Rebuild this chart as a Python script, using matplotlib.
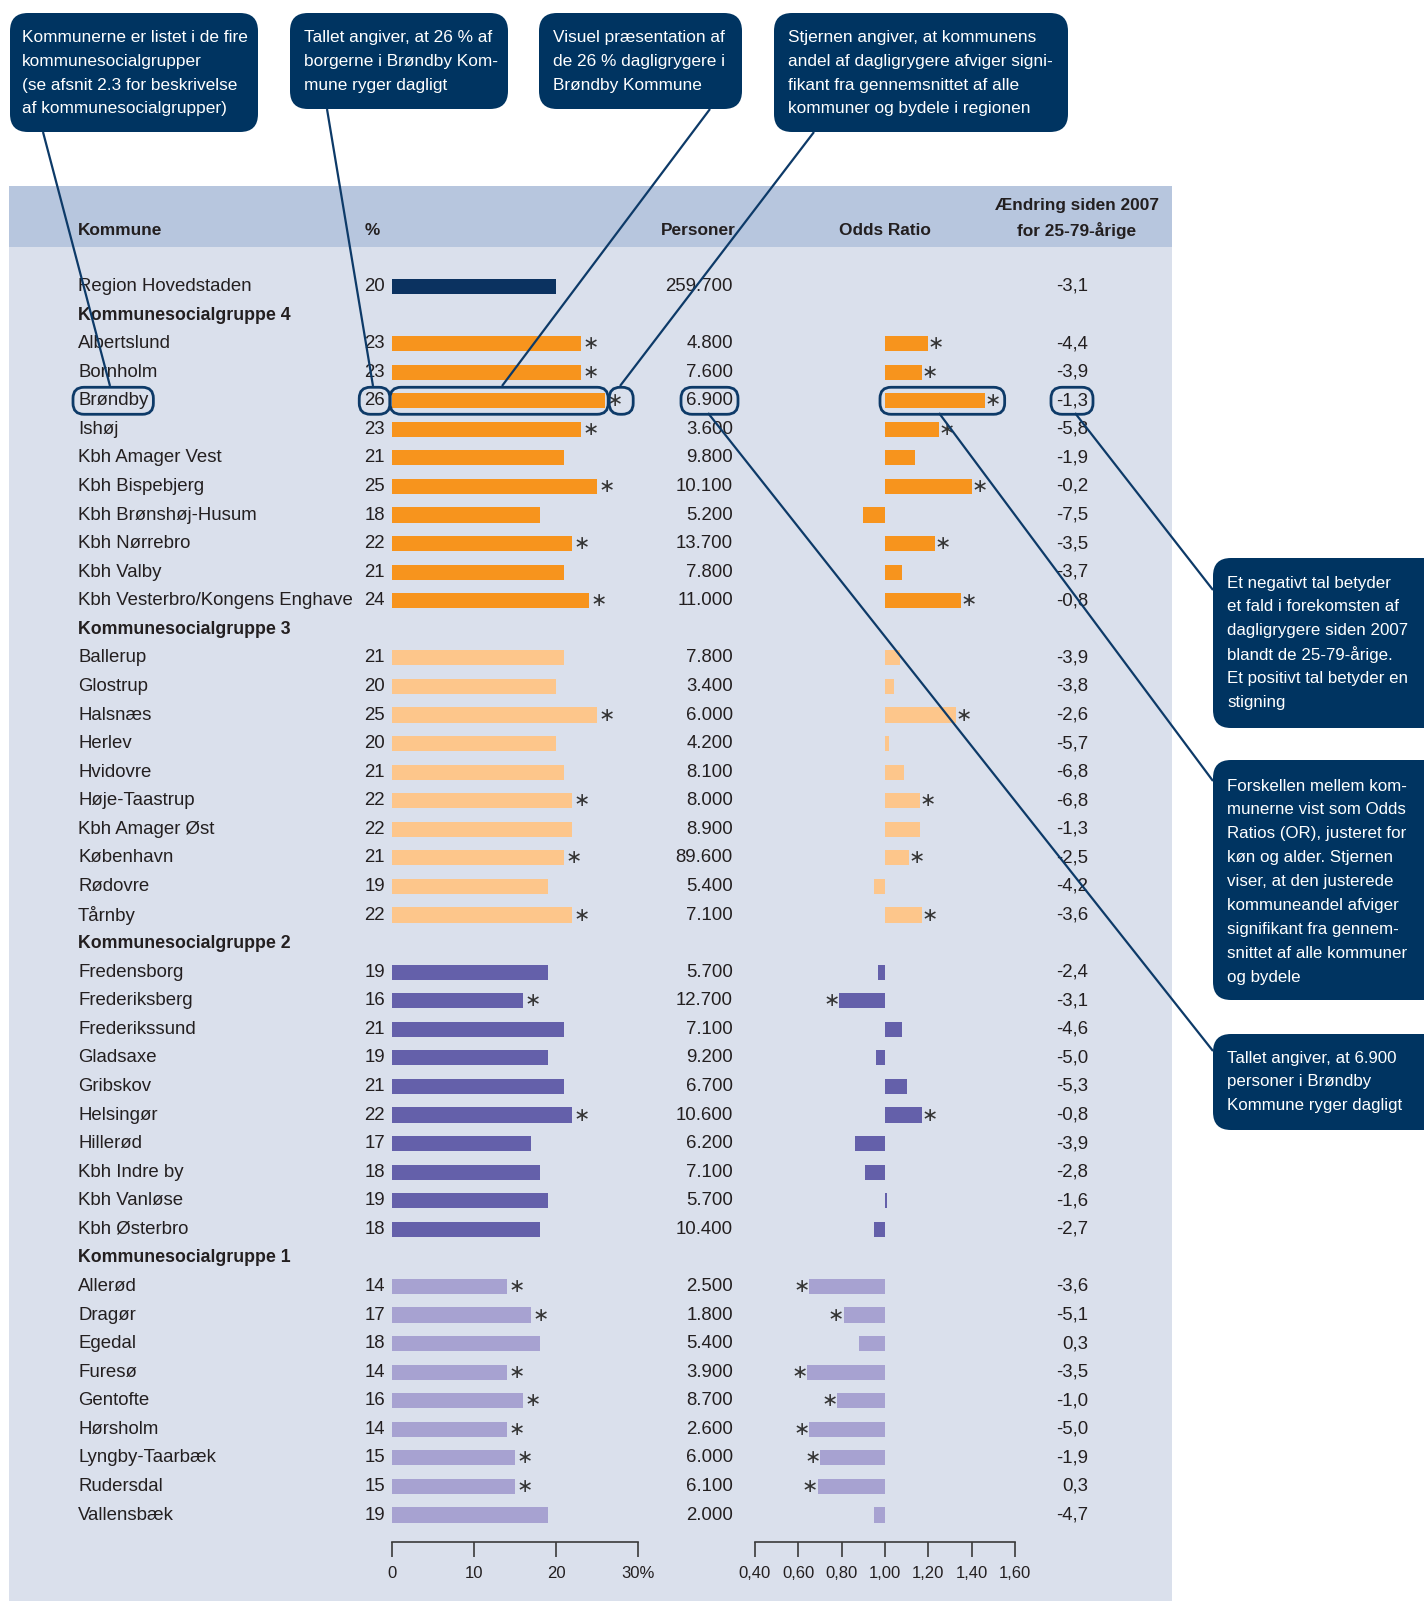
import matplotlib
matplotlib.use("Agg")
import matplotlib.pyplot as plt
from matplotlib.patches import FancyBboxPatch, Rectangle
from matplotlib.transforms import blended_transform_factory

W, H = 1424, 1601          # output size in pixels (dpi 100)
DPI = 100

# Colours
NAVY = "#0b3260"
BOX_NAVY = "#003461"
LINE_NAVY = "#0d3a68"
PANEL_BG = "#dae0ec"
HEADER_BG = "#b7c6de"
TEXT_COL = "#231f20"
G4_COL = "#f7941d"
G3_COL = "#fdc68b"
G2_COL = "#6460aa"
G1_COL = "#a7a2d1"

FONT = ["Liberation Sans", "DejaVu Sans"]
NARROW = ["Liberation Sans Narrow", "Liberation Sans", "DejaVu Sans"]

# ********************************** Data **************************************

region_name = "Region Hovedstaden"
region_pct = 20
region_persons = 259700
region_change = -3.1

group_titles = ["Kommunesocialgruppe 4", "Kommunesocialgruppe 3",
                "Kommunesocialgruppe 2", "Kommunesocialgruppe 1"]

names_g4 = ["Albertslund", "Bornholm", "Brøndby", "Ishøj", "Kbh Amager Vest",
            "Kbh Bispebjerg", "Kbh Brønshøj-Husum", "Kbh Nørrebro", "Kbh Valby",
            "Kbh Vesterbro/Kongens Enghave"]
pct_g4 = [23, 23, 26, 23, 21, 25, 18, 22, 21, 24]
persons_g4 = [4800, 7600, 6900, 3600, 9800, 10100, 5200, 13700, 7800, 11000]
odds_g4 = [1.20, 1.17, 1.46, 1.25, 1.14, 1.40, 0.90, 1.23, 1.08, 1.35]
change_g4 = [-4.4, -3.9, -1.3, -5.8, -1.9, -0.2, -7.5, -3.5, -3.7, -0.8]
sig_g4 = [True, True, True, True, False, True, False, True, False, True]

names_g3 = ["Ballerup", "Glostrup", "Halsnæs", "Herlev", "Hvidovre", "Høje-Taastrup",
            "Kbh Amager Øst", "København", "Rødovre", "Tårnby"]
pct_g3 = [21, 20, 25, 20, 21, 22, 22, 21, 19, 22]
persons_g3 = [7800, 3400, 6000, 4200, 8100, 8000, 8900, 89600, 5400, 7100]
odds_g3 = [1.07, 1.04, 1.33, 1.02, 1.09, 1.16, 1.16, 1.11, 0.95, 1.17]
change_g3 = [-3.9, -3.8, -2.6, -5.7, -6.8, -6.8, -1.3, -2.5, -4.2, -3.6]
sig_g3 = [False, False, True, False, False, True, False, True, False, True]

names_g2 = ["Fredensborg", "Frederiksberg", "Frederikssund", "Gladsaxe", "Gribskov",
            "Helsingør", "Hillerød", "Kbh Indre by", "Kbh Vanløse", "Kbh Østerbro"]
pct_g2 = [19, 16, 21, 19, 21, 22, 17, 18, 19, 18]
persons_g2 = [5700, 12700, 7100, 9200, 6700, 10600, 6200, 7100, 5700, 10400]
odds_g2 = [0.97, 0.79, 1.08, 0.96, 1.10, 1.17, 0.86, 0.91, 1.01, 0.95]
change_g2 = [-2.4, -3.1, -4.6, -5.0, -5.3, -0.8, -3.9, -2.8, -1.6, -2.7]
sig_g2 = [False, True, False, False, False, True, False, False, False, False]

names_g1 = ["Allerød", "Dragør", "Egedal", "Furesø", "Gentofte", "Hørsholm",
            "Lyngby-Taarbæk", "Rudersdal", "Vallensbæk"]
pct_g1 = [14, 17, 18, 14, 16, 14, 15, 15, 19]
persons_g1 = [2500, 1800, 5400, 3900, 8700, 2600, 6000, 6100, 2000]
odds_g1 = [0.65, 0.81, 0.88, 0.64, 0.78, 0.65, 0.70, 0.69, 0.95]
change_g1 = [-3.6, -5.1, 0.3, -3.5, -1.0, -5.0, -1.9, 0.3, -4.7]
sig_g1 = [True, True, False, True, True, True, True, True, False]

pct_ticks = [0, 10, 20, 30]
pct_tick_labels = ["0", "10", "20", "30%"]
odds_ticks = [0.4, 0.6, 0.8, 1.0, 1.2, 1.4, 1.6]
odds_tick_labels = ["0,40", "0,60", "0,80", "1,00", "1,20", "1,40", "1,60"]

HIGHLIGHT = "Brøndby"

# Callout texts
callouts_top = [
    "Kommunerne er listet i de fire\nkommunesocialgrupper\n(se afsnit 2.3 for beskrivelse\naf kommunesocialgrupper)",
    "Tallet angiver, at 26 % af\nborgerne i Brøndby Kom-\nmune ryger dagligt",
    "Visuel præsentation af\nde 26 % dagligrygere i\nBrøndby Kommune",
    "Stjernen angiver, at kommunens\nandel af dagligrygere afviger signi-\nfikant fra gennemsnittet af alle\nkommuner og bydele i regionen",
]
callouts_right = [
    "Et negativt tal betyder\net fald i forekomsten af\ndagligrygere siden 2007\nblandt de 25-79-årige.\nEt positivt tal betyder en\nstigning",
    "Forskellen mellem kom-\nmunerne vist som Odds\nRatios (OR), justeret for\nkøn og alder. Stjernen\nviser, at den justerede\nkommuneandel afviger\nsignifikant fra gennem-\nsnittet af alle kommuner\nog bydele",
    "Tallet angiver, at 6.900\npersoner i Brøndby\nKommune ryger dagligt",
]


# ********************************** Helpers **************************************

def fmt_int(n):
    return f"{n:,}".replace(",", ".")


def fmt_dec(v):
    return f"{v:.1f}".replace(".", ",")


# Build the row list: region row, then header + members for each group
rows = [dict(kind="data", name=region_name, pct=region_pct, persons=region_persons,
             odds=None, change=region_change, sig=False, col=NAVY)]
groups = [
    (names_g4, pct_g4, persons_g4, odds_g4, change_g4, sig_g4, G4_COL),
    (names_g3, pct_g3, persons_g3, odds_g3, change_g3, sig_g3, G3_COL),
    (names_g2, pct_g2, persons_g2, odds_g2, change_g2, sig_g2, G2_COL),
    (names_g1, pct_g1, persons_g1, odds_g1, change_g1, sig_g1, G1_COL),
]
for title, (names, pct, pers, odds, chg, sig, col) in zip(group_titles, groups):
    rows.append(dict(kind="header", name=title))
    for i in range(len(names)):
        rows.append(dict(kind="data", name=names[i], pct=pct[i], persons=pers[i],
                         odds=odds[i], change=chg[i], sig=sig[i], col=col))

# ********************************** Layout **************************************

ROW0_PX = 286.5                        # centre of first row
ROW_H = (1515 - ROW0_PX) / (len(rows) - 1)
TOP_PX = 250                           # top of bar axes
AXIS_PX = 1542                         # x-axis line
Y_BOTTOM = (AXIS_PX - ROW0_PX) / ROW_H
Y_TOP = (TOP_PX - ROW0_PX) / ROW_H


def fig_rect(x0, x1):
    return [x0 / W, 1 - AXIS_PX / H, (x1 - x0) / W, (AXIS_PX - TOP_PX) / H]


fig = plt.figure(figsize=(W / DPI, H / DPI), dpi=DPI)
fig.patch.set_facecolor("white")

# Pixel-coordinate background axes
bg = fig.add_axes([0, 0, 1, 1], label="bg", zorder=0)
bg.set_xlim(0, W)
bg.set_ylim(H, 0)
bg.axis("off")
bg.add_patch(Rectangle((9, 186), 1172 - 9, H - 186, fc=PANEL_BG, ec="none"))
bg.add_patch(Rectangle((9, 186), 1172 - 9, 247 - 186, fc=HEADER_BG, ec="none"))

# Column headers
hdr = dict(family=NARROW, fontsize=12.4, fontweight="bold", color=TEXT_COL, va="center")
bg.text(78, 230, "Kommune", ha="left", **hdr)
bg.text(365, 230, "%", ha="left", **hdr)
bg.text(736, 230, "Personer", ha="right", **hdr)
bg.text(885, 230, "Odds Ratio", ha="center", **hdr)
bg.text(1077, 205, "Ændring siden 2007", ha="center", **hdr)
bg.text(1077, 230, "for 25-79-årige", ha="center", **hdr)

# Bar axes
ax_pct = fig.add_axes(fig_rect(392, 638), label="pct", zorder=2)
ax_or = fig.add_axes(fig_rect(755, 1015), label="or", zorder=2)
for ax in (ax_pct, ax_or):
    ax.set_facecolor("none")
    for s in ("top", "left", "right"):
        ax.spines[s].set_visible(False)
    ax.spines["bottom"].set_linewidth(1.2)
    ax.spines["bottom"].set_color("#3a3a3a")
    ax.set_yticks([])
    ax.set_ylim(Y_BOTTOM, Y_TOP)
    ax.tick_params(axis="x", direction="out", length=11, width=1.2, color="#3a3a3a",
                   pad=6, labelsize=12, labelcolor=TEXT_COL)

ax_pct.set_xlim(0, 30)
ax_pct.set_xticks(pct_ticks, pct_tick_labels, family=FONT)
ax_or.set_xlim(0.4, 1.6)
ax_or.set_xticks(odds_ticks, odds_tick_labels, family=FONT)

tr = blended_transform_factory(bg.transData, ax_pct.transData)
row_font = dict(family=FONT, fontsize=13.4, color=TEXT_COL, va="center")
BAR_H = 0.53
star = dict(family="DejaVu Sans", fontsize=14, color="#333333", ha="center", va="center",
            textcoords="offset points", annotation_clip=False)

hl = {}
for i, r in enumerate(rows):
    if r["kind"] == "header":
        ax_pct.text(78, i, r["name"], transform=tr, fontweight="bold", ha="left",
                    **{**row_font, "fontsize": 12.8})
        continue
    t_name = ax_pct.text(78, i, r["name"], transform=tr, ha="left", **row_font)
    t_pct = ax_pct.text(385, i, str(r["pct"]), transform=tr, ha="right", **row_font)
    t_pers = ax_pct.text(733, i, fmt_int(r["persons"]), transform=tr, ha="right", **row_font)
    t_chg = ax_pct.text(1088, i, fmt_dec(r["change"]), transform=tr, ha="right", **row_font)

    ax_pct.barh(i, r["pct"], height=BAR_H, color=r["col"], linewidth=0)
    if r["sig"]:
        ax_pct.annotate("∗", xy=(r["pct"], i), xytext=(7, 0), **star)

    if r["odds"] is not None:
        ax_or.barh(i, r["odds"] - 1, left=1, height=BAR_H, color=r["col"], linewidth=0)
        if r["sig"]:
            dx = 5.5 if r["odds"] >= 1 else -5.5
            ax_or.annotate("∗", xy=(r["odds"], i), xytext=(dx, 0), **star)

    if r["name"] == HIGHLIGHT:
        hl = dict(row=i, pct=r["pct"], odds=r["odds"], name=t_name, pct_t=t_pct,
                  pers=t_pers, chg=t_chg)

# ********************************** Overlay **************************************

top = fig.add_axes([0, 0, 1, 1], label="top", zorder=5)
top.set_xlim(0, W)
top.set_ylim(H, 0)
top.axis("off")

fig.canvas.draw()
renderer = fig.canvas.get_renderer()
to_px = top.transData.inverted()


def px_of(ax, x, y):
    return to_px.transform(ax.transData.transform((x, y)))


def outline(x0, x1, yc, h=27):
    top.add_patch(FancyBboxPatch((x0, yc - h / 2), x1 - x0, h,
                                 boxstyle="round,pad=0,rounding_size=11",
                                 fc="none", ec=LINE_NAVY, lw=2))


yc = px_of(ax_pct, 0, hl["row"])[1]
for key in ("name", "pct_t", "pers", "chg"):
    bb = hl[key].get_window_extent(renderer)
    x0 = to_px.transform((bb.x0, bb.y0))[0]
    x1 = to_px.transform((bb.x1, bb.y0))[0]
    outline(x0 - 5, x1 + 5, yc)

bar0 = px_of(ax_pct, 0, hl["row"])[0]
bar1 = px_of(ax_pct, hl["pct"], hl["row"])[0]
outline(bar0 - 2, bar1 + 3, yc)
outline(bar1 + 4, bar1 + 28, yc)
or0 = px_of(ax_or, 1.0, hl["row"])[0]
or1 = px_of(ax_or, hl["odds"], hl["row"])[0]
outline(or0 - 5, or1 + 20, yc)

# Callout boxes
box_kw = dict(boxstyle="round,pad=0,rounding_size=18", fc=BOX_NAVY, ec="none")
top_boxes = [(10, 258, 13, 132, 22), (290, 508, 13, 109, 304),
             (539, 742, 13, 109, 553), (774, 1068, 13, 132, 788)]
for (x0, x1, y0, y1, tx), txt in zip(top_boxes, callouts_top):
    top.add_patch(FancyBboxPatch((x0, y0), x1 - x0, y1 - y0, **box_kw))
    for k, line in enumerate(txt.split("\n")):
        top.text(tx, 37.5 + k * 23.8, line, family=NARROW, fontsize=12.4, color="white",
                 ha="left", va="center")

right_boxes = [(558, 728, 583), (760, 1000, 786), (1034, 1130, 1058)]
for (y0, y1, ty), txt in zip(right_boxes, callouts_right):
    top.add_patch(FancyBboxPatch((1213, y0), 1450 - 1213, y1 - y0, **box_kw))
    for k, line in enumerate(txt.split("\n")):
        top.text(1227, ty + k * 23.9, line, family=FONT, fontsize=12.2, color="white",
                 ha="left", va="center")

# Leader lines
leaders = [((43, 132), (110, 386)), ((327, 109), (373, 386)), ((710, 109), (502, 386)),
           ((814, 132), (620, 386)), ((1213, 590), (1075, 413)), ((1213, 781), (939, 413)),
           ((1213, 1051), (708, 413))]
for (xa, ya), (xb, yb) in leaders:
    top.plot([xa, xb], [ya, yb], color=LINE_NAVY, lw=1.6, solid_capstyle="butt")

fig.savefig("out.png", dpi=DPI)
